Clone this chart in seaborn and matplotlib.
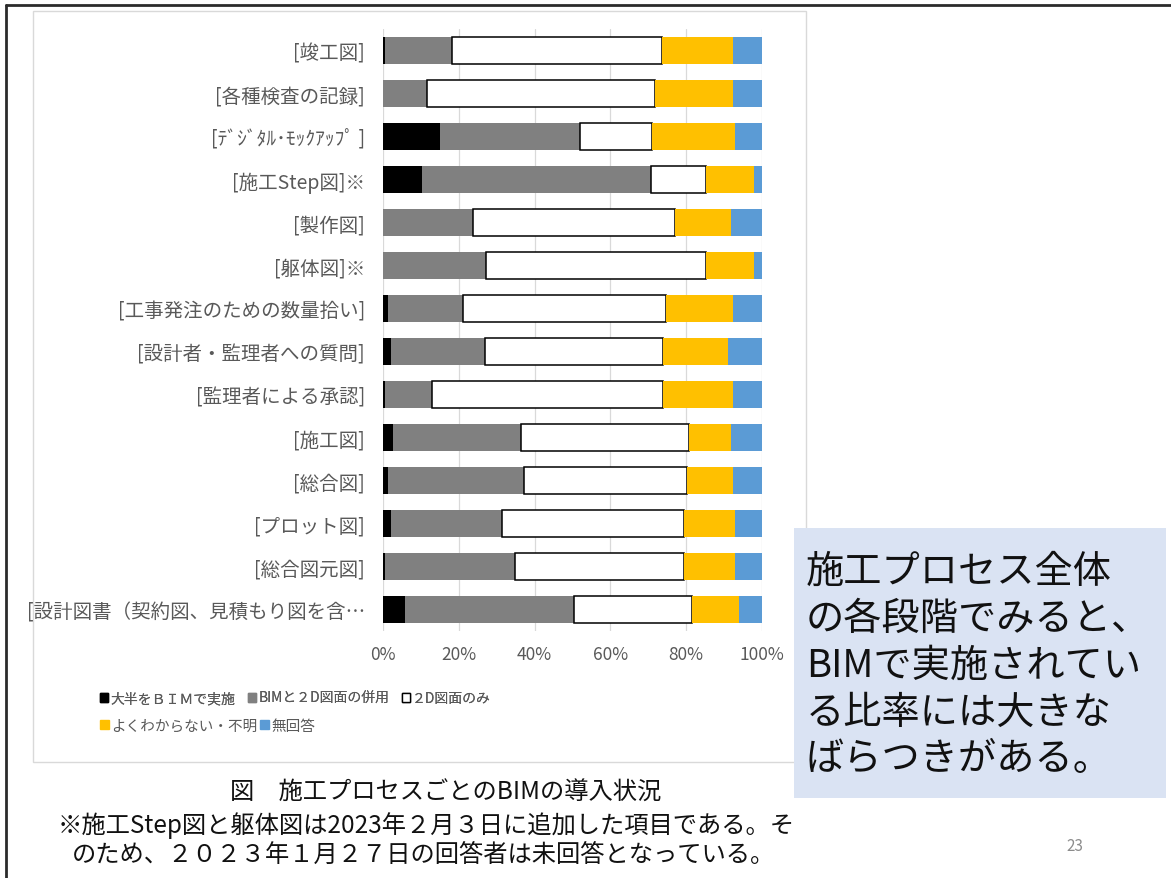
import matplotlib
matplotlib.use("Agg")
import matplotlib.pyplot as plt
from matplotlib.patches import Rectangle, Patch
from matplotlib.lines import Line2D
import seaborn as sns

# ---------------- data ----------------
categories = [
    "[竣工図]",
    "[各種検査の記録]",
    "[ﾃﾞｼﾞﾀﾙ･ﾓｯｸｱｯﾌﾟ ]",
    "[施工Step図]※",
    "[製作図]",
    "[躯体図]※",
    "[工事発注のための数量拾い]",
    "[設計者・監理者への質問]",
    "[監理者による承認]",
    "[施工図]",
    "[総合図]",
    "[プロット図]",
    "[総合図元図]",
    "[設計図書（契約図、見積もり図を含…",
]
bim_mostly = [0.5, 0.0, 15.0, 10.2, 0.0, 0.0, 1.3, 2.0, 0.5, 2.7, 1.3, 2.2, 0.5, 5.9]
bim_and_2d = [17.8, 11.5, 37.0, 60.4, 23.7, 27.1, 19.9, 24.8, 12.4, 33.8, 36.0, 29.1, 34.4, 44.4]
only_2d = [55.2, 60.2, 18.9, 14.7, 53.3, 58.2, 53.5, 47.1, 61.0, 44.2, 42.9, 48.1, 44.5, 31.2]
unknown = [18.8, 20.6, 22.1, 12.7, 14.8, 12.7, 17.6, 17.1, 18.4, 11.1, 12.1, 13.6, 13.6, 12.4]
no_answer = [7.7, 7.7, 7.0, 2.0, 8.2, 2.0, 7.7, 9.0, 7.7, 8.2, 7.7, 7.0, 7.0, 6.1]

series_names = ["大半をＢＩＭで実施", "BIMと２D図面の併用", "２D図面のみ",
                "よくわからない・不明", "無回答"]
series_values = [bim_mostly, bim_and_2d, only_2d, unknown, no_answer]
series_colors = ["#000000", "#808080", "#FFFFFF", "#FFC000", "#5B9BD5"]

x_ticks = [0, 20, 40, 60, 80, 100]
x_tick_labels = ["0%", "20%", "40%", "60%", "80%", "100%"]

caption = "図　施工プロセスごとのBIMの導入状況"
note_line1 = "※施工Step図と躯体図は2023年２月３日に追加した項目である。そ"
note_line2 = "のため、２０２３年１月２７日の回答者は未回答となっている。"
box_lines = ["施工プロセス全体", "の各段階でみると、", "BIMで実施されてい",
             "る比率には大きな", "ばらつきがある。"]
page_number = "23"

# ---------------- style ----------------
sns.set_theme(style="white")
plt.rcParams["font.family"] = ["Noto Sans CJK JP", "DejaVu Sans"]
GRAY_TXT = "#595959"

W, H = 1171, 879
fig = plt.figure(figsize=(W / 100, H / 100), dpi=100)
fig.patch.set_facecolor("white")


def fx(x):
    return x / W


def fy(y):
    return 1 - y / H


# slide frame (top + left)
fig.add_artist(Line2D([fx(6), 1], [fy(6), fy(6)], color="#2b2b2b", lw=2.0, zorder=5))
fig.add_artist(Line2D([fx(6), fx(6)], [fy(6), 0], color="#2b2b2b", lw=2.0, zorder=5))

# chart area
fig.add_artist(Rectangle((fx(33), fy(763)), fx(806) - fx(33), fy(12) - fy(763),
                         transform=fig.transFigure, facecolor="white",
                         edgecolor="#D9D9D9", lw=1.0, zorder=-1))

ax = fig.add_axes([fx(383), fy(632), fx(762) - fx(383), fy(30) - fy(632)])
ax.patch.set_alpha(0)

left = [0.0] * len(categories)
for name, vals, col in zip(series_names, series_values, series_colors):
    n_before = len(ax.patches)
    is_white = col == "#FFFFFF"
    sns.barplot(x=vals, y=categories, order=categories, orient="h", color=col,
                saturation=1, width=0.65, errorbar=None, ax=ax,
                edgecolor="#000000" if is_white else col,
                linewidth=1.1 if is_white else 0, zorder=3)
    new_patches = ax.patches[n_before:]
    for p, l, v in zip(new_patches, left, vals):
        p.set_x(l)
    left = [l + v for l, v in zip(left, vals)]

ax.set_xlim(0, 100)
ax.set_xticks(x_ticks)
ax.set_xticklabels(x_tick_labels)
ax.set_xlabel("")
ax.set_ylabel("")
for s in ax.spines.values():
    s.set_visible(False)
ax.grid(axis="x", color="#D9D9D9", lw=0.9, zorder=0)
ax.grid(axis="y", visible=False)
ax.set_axisbelow(True)
ax.tick_params(axis="x", length=0, pad=10, labelsize=12.5, labelcolor=GRAY_TXT)
ax.tick_params(axis="y", length=0, pad=13, labelsize=14, labelcolor=GRAY_TXT)

# legend (two rows)
handles = []
for name, col in zip(series_names, series_colors):
    handles.append(Patch(facecolor=col, edgecolor="#000000" if col == "#FFFFFF" else col,
                         lw=1.0))
leg1 = fig.legend(handles[:3], series_names[:3], loc="center left",
                  bbox_to_anchor=(fx(100), fy(699)), ncol=3, frameon=False,
                  borderpad=0, borderaxespad=0, handlelength=0.6, handleheight=0.6,
                  handletextpad=0.15, columnspacing=0.9, fontsize=10,
                  labelcolor=GRAY_TXT)
leg2 = fig.legend(handles[3:], series_names[3:], loc="center left",
                  bbox_to_anchor=(fx(100), fy(727)), ncol=2, frameon=False,
                  borderpad=0, borderaxespad=0, handlelength=0.6, handleheight=0.6,
                  handletextpad=0.15, columnspacing=0.2, fontsize=10.5,
                  labelcolor=GRAY_TXT)
fig.add_artist(leg1)

# caption and notes
fig.text(fx(446), fy(793), caption, ha="center", va="center", fontsize=17.5, color="#111111")
fig.text(fx(58), fy(826), note_line1, ha="left", va="center", fontsize=17.5, color="#111111")
fig.text(fx(72), fy(855), note_line2, ha="left", va="center", fontsize=17.5, color="#111111")

# highlighted text box
fig.add_artist(Rectangle((fx(794), fy(799)), fx(1166) - fx(794), fy(529) - fy(799),
                         transform=fig.transFigure, facecolor="#DAE3F3",
                         edgecolor="none", zorder=3))
for i, line in enumerate(box_lines):
    fig.text(fx(806), fy(572 + i * 47), line, ha="left", va="center",
             fontsize=27.5, color="#111111", zorder=4)

fig.text(fx(1075), fy(847), page_number, ha="center", va="center",
         fontsize=11, color="#8C8C8C")

fig.savefig("out.png", dpi=100, facecolor="white")
